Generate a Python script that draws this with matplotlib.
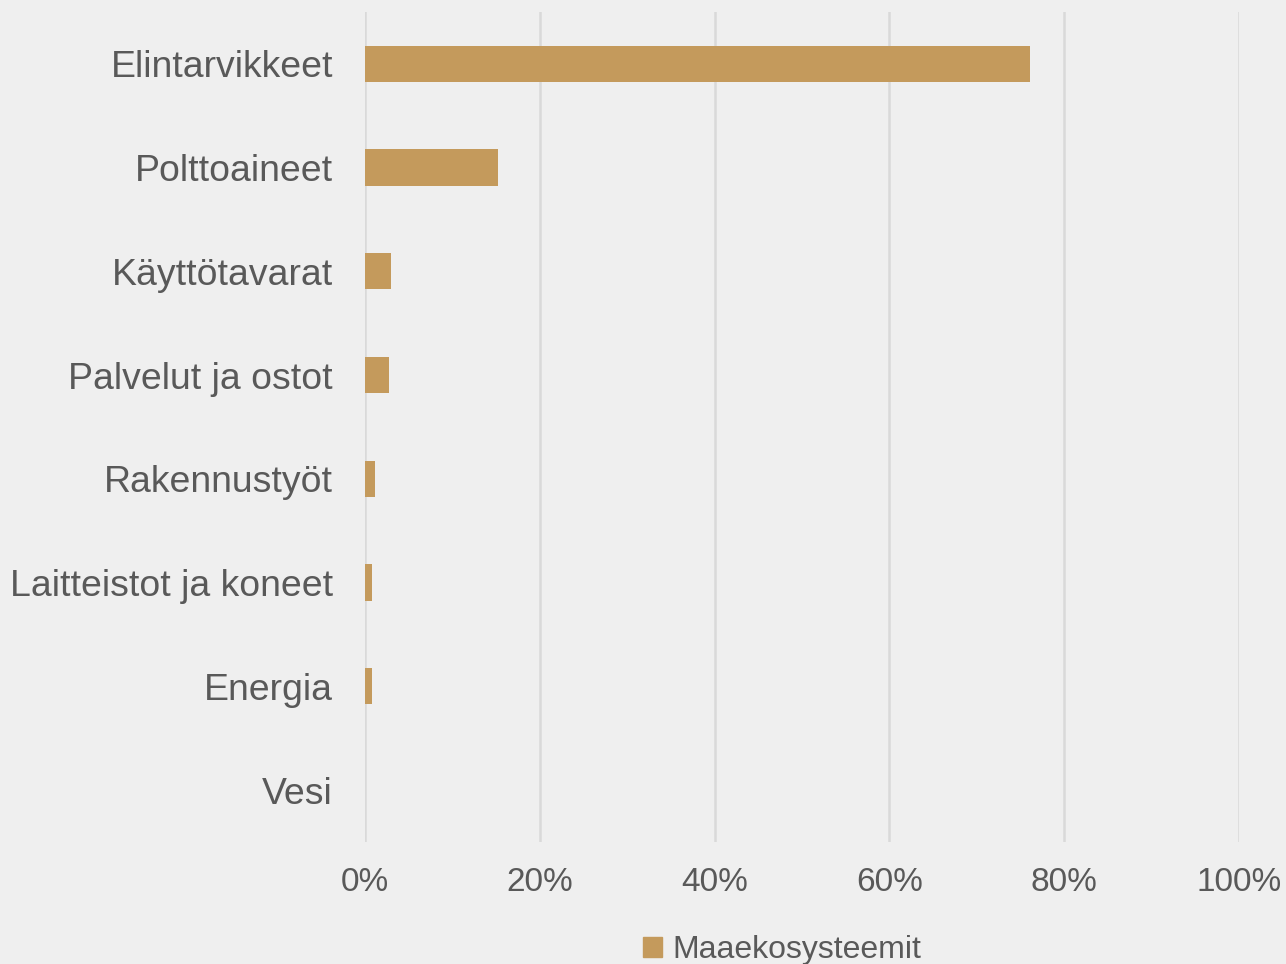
import numpy as np
import matplotlib.pyplot as plt
from matplotlib.patches import Patch

plt.rcParams['font.family'] = ['Liberation Sans', 'DejaVu Sans']

luokat = ["Elintarvikkeet", "Polttoaineet", "Käyttötavarat", "Palvelut ja ostot",
          "Rakennustyöt", "Laitteistot ja koneet", "Energia", "Vesi"]
osuus = [76.1, 15.2, 3.0, 2.7, 1.2, 0.8, 0.8, 0.0]
sarja = "Maaekosysteemit"
xtikit = [0, 20, 40, 60, 80, 100]

tausta = "#efefef"
vari = "#c49a5c"
teksti = "#595959"

fig = plt.figure(figsize=(12.86, 9.64), dpi=100, facecolor=tausta)
ax = fig.add_axes([0.2838, 0.1266, 0.6797, 0.861])
ax.set_facecolor(tausta)

y = np.arange(len(luokat))
ax.barh(y, osuus, height=0.35, color=vari, zorder=3)
ax.set_ylim(len(luokat) - 0.5, -0.5)
ax.set_xlim(0, 100)

ax.set_yticks(y)
ax.set_yticklabels(luokat, fontsize=26.9, color=teksti)
ax.set_xticks(xtikit)
ax.set_xticklabels([f"{t}%" for t in xtikit], fontsize=24, color=teksti)
ax.tick_params(axis='y', length=0, pad=23)
ax.tick_params(axis='x', length=0, pad=18)

ax.grid(axis='x', color="#d9d9d9", linewidth=1.8, zorder=0)
for s in ax.spines.values():
    s.set_visible(False)

fig.legend(handles=[Patch(color=vari, label=sarja)], loc='center',
           bbox_to_anchor=(782 / 1286, 1 - 950 / 964), frameon=False,
           fontsize=23, labelcolor=teksti, handlelength=0.6, handleheight=0.6,
           handletextpad=0.3)

fig.savefig("out.png", dpi=100, facecolor=tausta)
